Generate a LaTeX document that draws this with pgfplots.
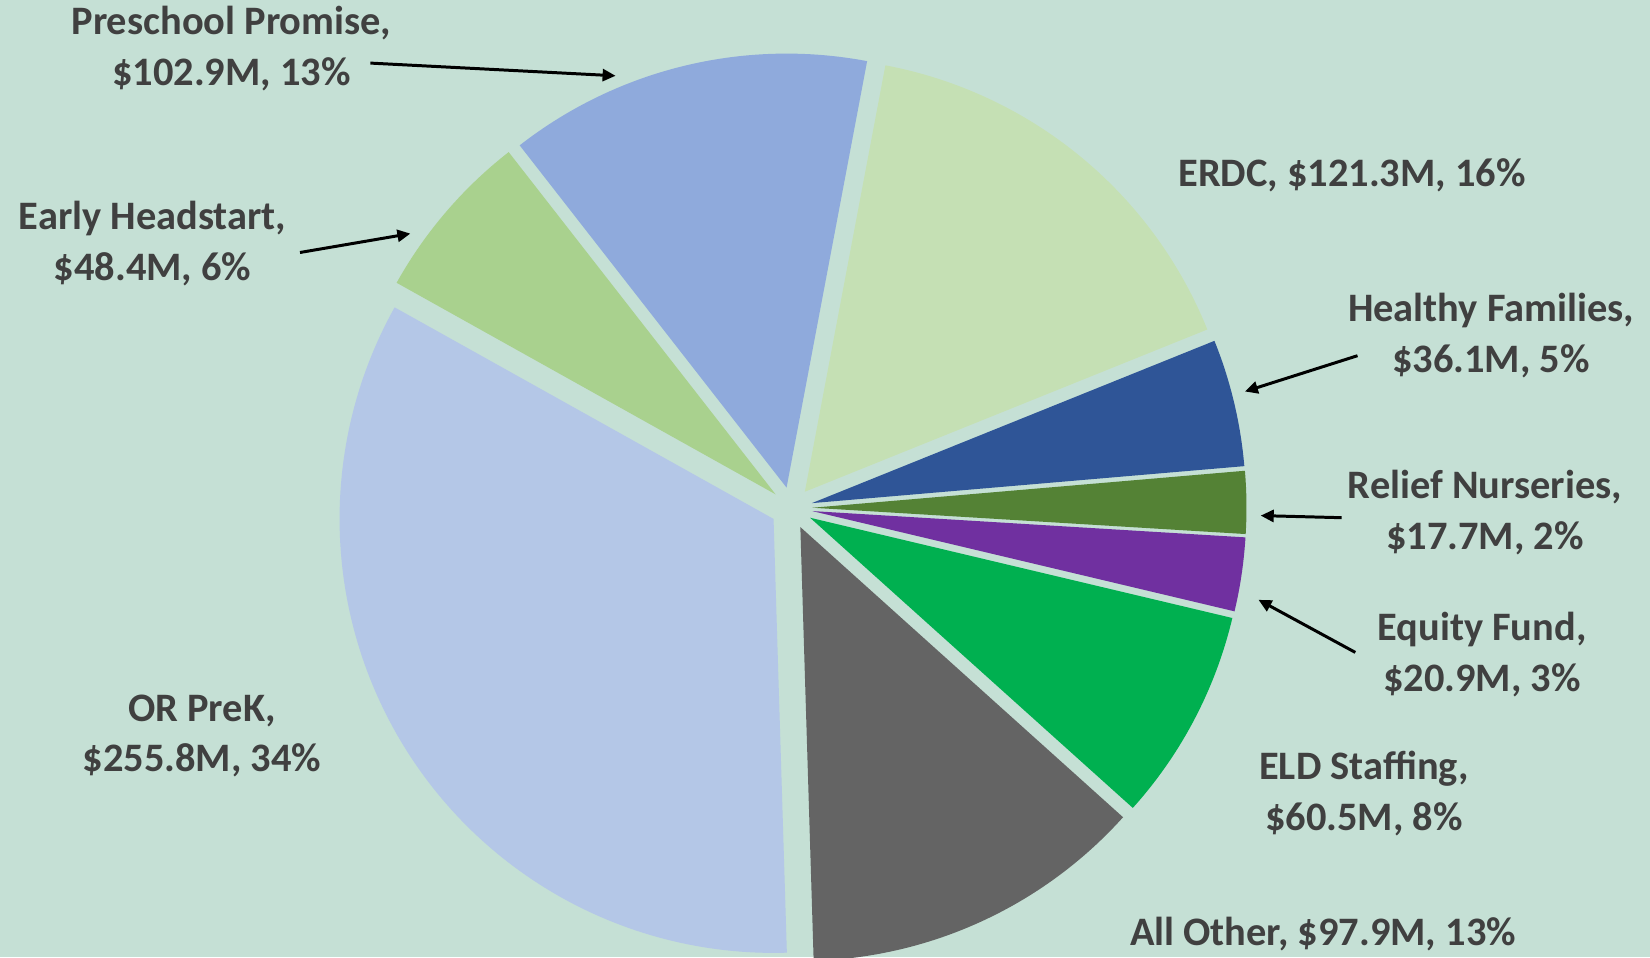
\documentclass[border=0pt]{standalone}
\usepackage{pgfplots}
\usepackage{pgfplotstable}
\pgfplotsset{compat=1.18}
\usetikzlibrary{arrows.meta}
\usepackage{fontspec}
\setmainfont{Carlito}

\definecolor{bgc}{RGB}{197,224,213}
\definecolor{txt}{RGB}{64,64,64}
\definecolor{slice0}{HTML}{C5E0B4}
\definecolor{slice1}{HTML}{2F5597}
\definecolor{slice2}{HTML}{548235}
\definecolor{slice3}{HTML}{7030A0}
\definecolor{slice4}{HTML}{00B050}
\definecolor{slice5}{HTML}{646464}
\definecolor{slice6}{HTML}{B4C7E7}
\definecolor{slice7}{HTML}{A9D18E}
\definecolor{slice8}{HTML}{8FAADC}

\pgfplotstableread[col sep=comma]{
name,value
ERDC,121.3
Healthy Families,36.1
Relief Nurseries,17.7
Equity Fund,20.9
ELD Staffing,60.5
All Other,97.9
OR PreK,255.8
Early Headstart,48.4
Preschool Promise,102.9
}\pietable

% geometry (pixel units of a 1650 x 957 canvas, y up)
\def\cx{791.5}
\def\cy{449}
\def\pieR{434}
\def\explode{21}
\def\pieoffset{10.7}

\tikzset{lbl/.style={text=txt, font=\bfseries\fontsize{11.5}{14.4}\selectfont, align=center, inner sep=0pt}}

\begin{document}%
\begin{tikzpicture}
\pgfplotstablegetrowsof{\pietable}
\pgfmathtruncatemacro{\nlast}{\pgfplotsretval-1}
\def\pietotal{0}
\pgfplotsforeachungrouped \i in {0,...,\nlast}{%
  \pgfplotstablegetelem{\i}{value}\of\pietable
  \pgfmathsetmacro{\pietotal}{\pietotal+\pgfplotsretval}%
}
\def\piecum{0}
\pgfplotsforeachungrouped \i in {0,...,\nlast}{%
  \pgfplotstablegetelem{\i}{value}\of\pietable
  \pgfmathsetmacro{\sa}{\pieoffset+\piecum/\pietotal*360}%
  \pgfmathsetmacro{\piecum}{\piecum+\pgfplotsretval}%
  \pgfmathsetmacro{\sb}{\pieoffset+\piecum/\pietotal*360}%
  \pgfmathsetmacro{\sm}{(\sa+\sb)/2}%
  \pgfmathsetmacro{\sx}{\cx+\explode*sin(\sm)}%
  \pgfmathsetmacro{\sy}{\cy+\explode*cos(\sm)}%
  \expandafter\xdef\csname pieA\i\endcsname{\sa}%
  \expandafter\xdef\csname pieB\i\endcsname{\sb}%
  \expandafter\xdef\csname pieX\i\endcsname{\sx}%
  \expandafter\xdef\csname pieY\i\endcsname{\sy}%
}
\useasboundingbox (0,0) rectangle (16.5cm,9.57cm);
\fill[bgc] (0,0) rectangle (16.5cm,9.57cm);
\begin{axis}[
  at={(0,0)}, anchor=south west,
  scale only axis, width=16.5cm, height=9.57cm,
  xmin=0, xmax=1650, ymin=0, ymax=957,
  hide axis, clip=true,
]
\pgfplotsinvokeforeach{0,...,8}{%
  \edef\tmp{\noexpand\addplot[fill=slice#1, draw=none, samples=120,
     domain=\csname pieA#1\endcsname:\csname pieB#1\endcsname]
     ({\csname pieX#1\endcsname+\pieR*sin(x)},{\csname pieY#1\endcsname+\pieR*cos(x)})
     -- (axis cs:\csname pieX#1\endcsname,\csname pieY#1\endcsname) -- cycle;}%
  \tmp
}
% labels
\node[lbl] at (axis cs:231.5,908.5) {Preschool Promise,\\\$102.9M, 13\%};
\node[lbl] at (axis cs:152.6,713.5) {Early Headstart,\\\$48.4M, 6\%};
\node[lbl] at (axis cs:1352,782) {ERDC, \$121.3M, 16\%};
\node[lbl] at (axis cs:1491,621.5) {Healthy Families,\\\$36.1M, 5\%};
\node[lbl] at (axis cs:1485,444.5) {Relief Nurseries,\\\$17.7M, 2\%};
\node[lbl] at (axis cs:1482,302.5) {Equity Fund,\\\$20.9M, 3\%};
\node[lbl] at (axis cs:1364,163.5) {ELD Staffing,\\\$60.5M, 8\%};
\node[lbl] at (axis cs:1323,23) {All Other, \$97.9M, 13\%};
\node[lbl] at (axis cs:202,221) {OR PreK,\\\$255.8M, 34\%};
% arrows
\begin{scope}[line width=0.85pt, -{Triangle[length=0.13cm,width=0.12cm]}]
\draw (axis cs:370.4,893.9) -- (axis cs:615.6,881.2);
\draw (axis cs:300,704.5) -- (axis cs:410.4,723.4);
\draw (axis cs:1357.5,601.3) -- (axis cs:1244.9,565.5);
\draw (axis cs:1341.7,439.3) -- (axis cs:1260.7,441.4);
\draw (axis cs:1355.3,304.6) -- (axis cs:1258.5,357.2);
\end{scope}
\end{axis}
\end{tikzpicture}%
\end{document}
